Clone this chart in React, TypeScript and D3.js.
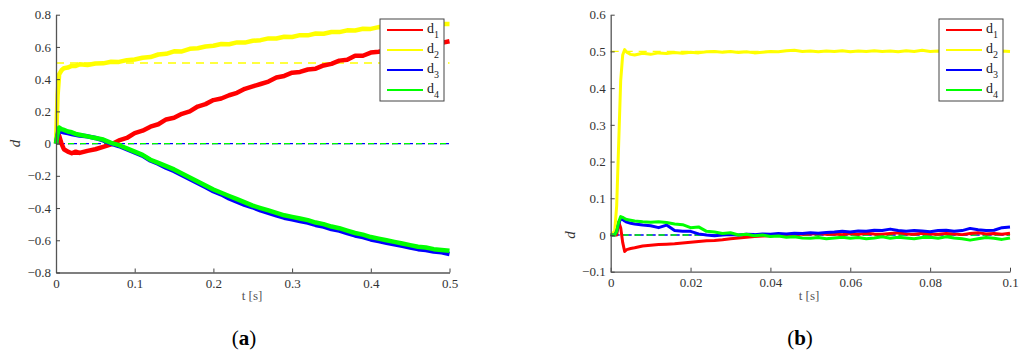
import React, { useEffect, useRef } from 'react';
import * as d3 from 'd3';

// panel (a) time samples [s]
const tA = [
  0, 0.002, 0.004, 0.007, 0.01, 0.015, 0.02, 0.025, 0.03, 0.04,
  0.05, 0.06, 0.07, 0.08, 0.09, 0.1, 0.11, 0.12, 0.13, 0.14,
  0.15, 0.16, 0.17, 0.18, 0.19, 0.2, 0.21, 0.22, 0.23, 0.24,
  0.25, 0.26, 0.27, 0.28, 0.29, 0.3, 0.31, 0.32, 0.33, 0.34,
  0.35, 0.36, 0.37, 0.38, 0.39, 0.4, 0.41, 0.42, 0.43, 0.44,
  0.45, 0.46, 0.47, 0.48, 0.49, 0.5,
];
const d1A = [
  0, 0.02, 0.05, 0.0, -0.035, -0.05, -0.06, -0.05, -0.058, -0.045,
  -0.035, -0.02, -0.005, 0.02, 0.035, 0.065, 0.08, 0.105, 0.12, 0.15,
  0.16, 0.185, 0.2, 0.23, 0.245, 0.27, 0.28, 0.3, 0.315, 0.34,
  0.355, 0.37, 0.385, 0.41, 0.42, 0.44, 0.445, 0.46, 0.465, 0.485,
  0.495, 0.515, 0.52, 0.545, 0.545, 0.565, 0.57, 0.58, 0.585, 0.595,
  0.6, 0.61, 0.61, 0.625, 0.625, 0.635,
];
const d2A = [
  0, 0.3, 0.43, 0.455, 0.468, 0.472, 0.482, 0.482, 0.492, 0.488,
  0.497, 0.498, 0.508, 0.507, 0.518, 0.522, 0.533, 0.537, 0.553, 0.557,
  0.573, 0.572, 0.588, 0.592, 0.603, 0.607, 0.618, 0.617, 0.628, 0.627,
  0.638, 0.642, 0.653, 0.652, 0.663, 0.662, 0.673, 0.672, 0.683, 0.682,
  0.693, 0.692, 0.703, 0.702, 0.713, 0.712, 0.723, 0.717, 0.728, 0.722,
  0.733, 0.727, 0.738, 0.732, 0.743, 0.742,
];
const d3A = [
  0, 0.05, 0.08, 0.075, 0.07, 0.065, 0.06, 0.055, 0.05, 0.045,
  0.035, 0.02, 0.0, -0.015, -0.035, -0.055, -0.075, -0.105, -0.125, -0.15,
  -0.17, -0.195, -0.22, -0.245, -0.27, -0.295, -0.315, -0.34, -0.36, -0.38,
  -0.395, -0.415, -0.43, -0.445, -0.46, -0.47, -0.48, -0.49, -0.505, -0.515,
  -0.53, -0.54, -0.555, -0.57, -0.58, -0.595, -0.605, -0.615, -0.625, -0.635,
  -0.645, -0.655, -0.66, -0.67, -0.675, -0.685,
];
const d4A = [
  0, 0.06, 0.1, 0.09, 0.085, 0.075, 0.07, 0.06, 0.055, 0.045,
  0.035, 0.025, 0.005, -0.01, -0.03, -0.05, -0.07, -0.1, -0.12, -0.14,
  -0.16, -0.185, -0.21, -0.235, -0.26, -0.285, -0.305, -0.325, -0.345, -0.365,
  -0.385, -0.4, -0.415, -0.43, -0.445, -0.455, -0.465, -0.475, -0.49, -0.5,
  -0.515, -0.525, -0.54, -0.555, -0.565, -0.58, -0.59, -0.6, -0.61, -0.62,
  -0.63, -0.64, -0.645, -0.655, -0.66, -0.665,
];

// panel (b) time samples [s]
const tB = [
  0, 0.001, 0.0015, 0.002, 0.0025, 0.003, 0.0035, 0.004, 0.005,
  0.006, 0.008, 0.01, 0.012, 0.014,
  0.016, 0.018, 0.02, 0.022, 0.024,
  0.026, 0.028, 0.03, 0.032, 0.034,
  0.036, 0.038, 0.04, 0.042, 0.044,
  0.046, 0.048, 0.05, 0.052, 0.054,
  0.056, 0.058, 0.06, 0.062, 0.064,
  0.066, 0.068, 0.07, 0.072, 0.074,
  0.076, 0.078, 0.08, 0.082, 0.084,
  0.086, 0.088, 0.09, 0.092, 0.094,
  0.096, 0.098, 0.1,
];
const d1B = [
  0, 0, 0.0, 0.035, 0.02, -0.02, -0.045, -0.04, -0.037,
  -0.035, -0.03, -0.028, -0.026, -0.025,
  -0.024, -0.022, -0.02, -0.018, -0.016,
  -0.015, -0.013, -0.01, -0.008, -0.006,
  -0.004, -0.003, -0.002, 0.0, 0.001,
  0.002, 0.002, 0.003, 0.004, 0.002,
  0.003, 0.001, 0.004, 0.002, 0.005,
  0.003, 0.002, 0.004, 0.006, 0.003,
  0.002, 0.005, 0.003, 0.002, 0.004,
  0.003, 0.001, 0.004, 0.006, 0.003,
  0.004, 0.002, 0.005,
];
const d2B = [
  0, 0.01, 0.08, 0.25, 0.42, 0.49, 0.505, 0.498, 0.492,
  0.49, 0.495, 0.492, 0.496, 0.494,
  0.497, 0.495, 0.498, 0.496, 0.499,
  0.5, 0.498, 0.5, 0.497, 0.499,
  0.496, 0.498, 0.5, 0.499, 0.502,
  0.503, 0.5, 0.501, 0.499, 0.501,
  0.5, 0.502, 0.499, 0.501, 0.5,
  0.502, 0.5, 0.501, 0.499, 0.502,
  0.5, 0.503, 0.5, 0.501, 0.499,
  0.5, 0.501, 0.5, 0.502, 0.499,
  0.5, 0.501, 0.5,
];
const d3B = [
  0, 0.0, 0.01, 0.03, 0.045, 0.042, 0.038, 0.035, 0.032,
  0.03, 0.027, 0.025, 0.02, 0.027,
  0.012, 0.01, 0.01, 0.003, 0.0,
  -0.002, 0.0, 0.001, 0.0, 0.002,
  0.001, 0.003, 0.002, 0.004, 0.003,
  0.005, 0.004, 0.006, 0.005, 0.007,
  0.008, 0.01, 0.008, 0.011, 0.01,
  0.013, 0.012, 0.016, 0.012, 0.01,
  0.012, 0.011, 0.009, 0.012, 0.013,
  0.01, 0.012, 0.018, 0.014, 0.012,
  0.013, 0.02, 0.022,
];
const d4B = [
  0, 0.0, 0.01, 0.035, 0.05, 0.048, 0.045, 0.042, 0.04,
  0.038, 0.036, 0.035, 0.036, 0.034,
  0.03, 0.028, 0.02, 0.022, 0.01,
  0.008, 0.004, 0.006, 0.0, 0.002,
  -0.002, 0.0, -0.004, -0.003, -0.006,
  -0.005, -0.008, -0.009, -0.007, -0.01,
  -0.008, -0.006, -0.009, -0.007, -0.01,
  -0.008, -0.005, -0.009, -0.006, -0.008,
  -0.01, -0.007, -0.006, -0.009, -0.005,
  -0.008, -0.01, -0.014, -0.01, -0.007,
  -0.009, -0.012, -0.008,
];

const xTicksA = [0, 0.1, 0.2, 0.3, 0.4, 0.5];
const yTicksA = [-0.8, -0.6, -0.4, -0.2, 0, 0.2, 0.4, 0.6, 0.8];
const xTicksB = [0, 0.02, 0.04, 0.06, 0.08, 0.1];
const yTicksB = [-0.1, 0, 0.1, 0.2, 0.3, 0.4, 0.5, 0.6];

const names = ['1', '2', '3', '4'];
const colors = ['#ff0000', '#ffff00', '#0000ff', '#00ff00'];
// desired values (dashed reference lines)
const refs = [0, 0.5, 0, 0];

const SERIF = 'Liberation Serif, Times New Roman, Times, DejaVu Serif, serif';

const drawPanel = (svg, p) => {
  const g = svg.append('g').style('font-family', SERIF);
  const x = d3.scaleLinear().domain(p.xDomain).range([p.left, p.right]);
  const y = d3.scaleLinear().domain(p.yDomain).range([p.bottom, p.top]);

  // reference lines
  const dashes = ['1,11', '8,6', '3,3,6,0', '6,6'];
  [0, 2, 3, 1].forEach(i => {
    g.append('line')
      .attr('x1', x(p.xDomain[0])).attr('x2', x(p.xDomain[1]))
      .attr('y1', y(refs[i])).attr('y2', y(refs[i]))
      .attr('stroke', colors[i]).attr('stroke-width', 1.4)
      .attr('stroke-dasharray', dashes[i])
      .attr('stroke-dashoffset', i === 2 ? 6 : 0);
  });

  const line = d3.line().x(d => x(d[0])).y(d => y(d[1]));
  p.series.forEach((s, i) => {
    g.append('path')
      .datum(p.t.map((t, k) => [t, s[k]]))
      .attr('fill', 'none')
      .attr('stroke', colors[i])
      .attr('stroke-width', p.sw)
      .attr('stroke-linejoin', 'round')
      .attr('d', line);
  });

  const xAxis = g.append('g').attr('transform', `translate(0,${p.bottom})`)
    .call(d3.axisBottom(x).tickValues(p.xTicks).tickSizeInner(-4).tickSizeOuter(0).tickPadding(6).tickFormat(d3.format('')));
  const yAxis = g.append('g').attr('transform', `translate(${p.left},0)`)
    .call(d3.axisLeft(y).tickValues(p.yTicks).tickSizeInner(-4).tickSizeOuter(0).tickPadding(5).tickFormat(d3.format('')));
  [xAxis, yAxis].forEach(a => {
    a.attr('font-family', null).attr('font-size', 13);
    a.select('.domain').attr('stroke', '#555').attr('stroke-width', 1.3);
    a.selectAll('.tick line').attr('stroke', '#444');
    a.selectAll('.tick text').attr('fill', '#333').style('font-family', SERIF);
  });

  // axis labels
  g.append('text')
    .attr('transform', `translate(${p.left - 36},${y(0)}) rotate(-90)`)
    .attr('text-anchor', 'middle')
    .attr('font-style', 'italic').attr('font-size', 15)
    .attr('fill', '#333')
    .text('d');
  g.append('text')
    .attr('x', p.xLabel).attr('y', 300)
    .attr('text-anchor', 'middle')
    .attr('font-size', 13).attr('fill', '#555')
    .text('t  [s]');

  // legend
  const lg = g.append('g').attr('transform', `translate(${p.legendX},19)`);
  lg.append('rect').attr('width', 64).attr('height', 82)
    .attr('fill', '#fff').attr('stroke', '#444').attr('stroke-width', 1);
  names.forEach((n, i) => {
    const yy = 11 + i * 20;
    lg.append('line').attr('x1', 7).attr('x2', 43).attr('y1', yy).attr('y2', yy)
      .attr('stroke', colors[i]).attr('stroke-width', 2.2);
    const tx = lg.append('text').attr('x', 47).attr('y', yy + 3)
      .attr('font-size', 14).attr('fill', '#222');
    tx.append('tspan').text('d');
    tx.append('tspan').attr('dy', 5).attr('font-size', 10).text(n);
  });

  // panel tag
  const tag = g.append('text')
    .attr('x', p.tagX).attr('y', 345)
    .attr('text-anchor', 'middle')
    .attr('font-size', 21).attr('fill', '#000');
  tag.append('tspan').text('(');
  tag.append('tspan').attr('font-weight', 'bold').text(p.tag);
  tag.append('tspan').text(')');
};

const App = () => {
  const svgRef = useRef(null);

  useEffect(() => {
    const svg = d3.select(svgRef.current);
    svg.selectAll('*').remove();

    drawPanel(svg, {
      left: 56, right: 449.5, top: 14.7, bottom: 272.5,
      xDomain: [0, 0.5], yDomain: [-0.8, 0.8],
      xTicks: xTicksA, yTicks: yTicksA,
      t: tA, series: [d1A, d2A, d3A, d4A], sw: 4.5,
      legendX: 380, xLabel: 252, tagX: 244, tag: 'a',
    });
    drawPanel(svg, {
      left: 610.7, right: 1010, top: 14.7, bottom: 271.7,
      xDomain: [0, 0.1], yDomain: [-0.1, 0.6],
      xTicks: xTicksB, yTicks: yTicksB,
      t: tB, series: [d1B, d2B, d3B, d4B], sw: 3,
      legendX: 939, xLabel: 809, tagX: 800, tag: 'b',
    });
  }, []);

  return (
    <svg ref={svgRef} width={1024} height={355}
      style={{ position: 'absolute', left: 0, top: 0, background: '#fff' }} />
  );
};

export default App;
